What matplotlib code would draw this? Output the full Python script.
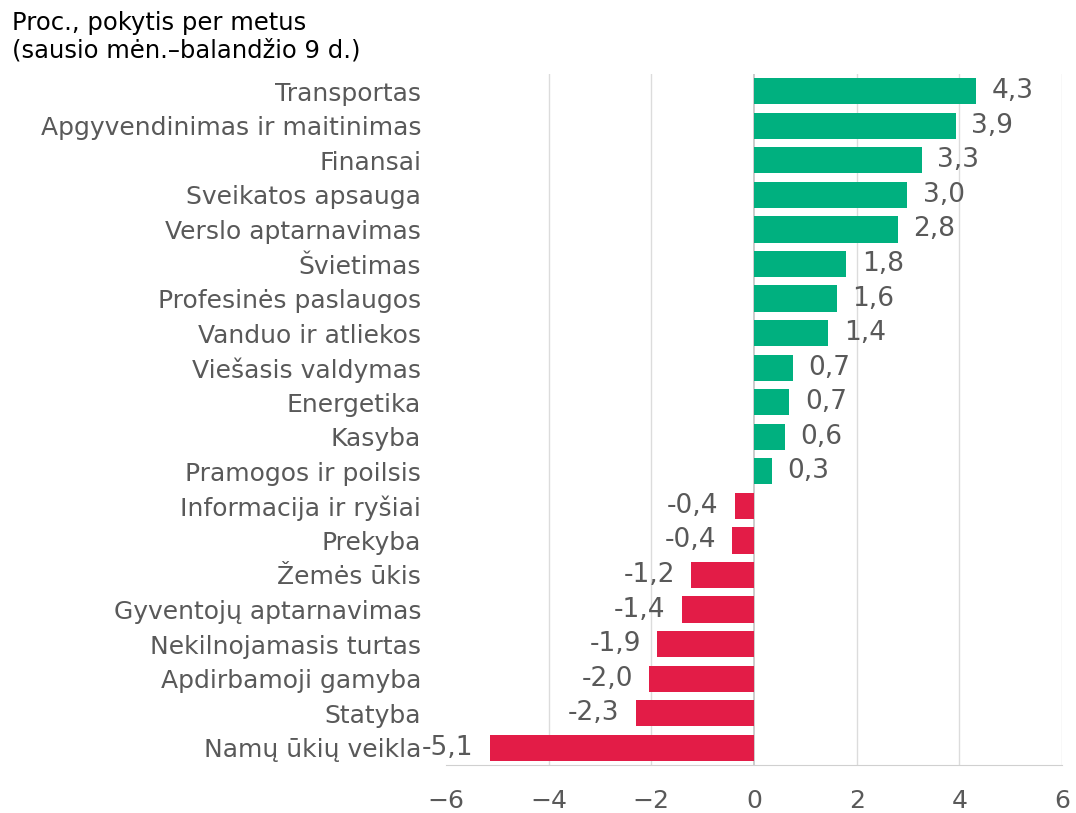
import numpy as np
import matplotlib.pyplot as plt

categories = ["Transportas", "Apgyvendinimas ir maitinimas", "Finansai", "Sveikatos apsauga",
              "Verslo aptarnavimas", "Švietimas", "Profesinės paslaugos", "Vanduo ir atliekos",
              "Viešasis valdymas", "Energetika", "Kasyba", "Pramogos ir poilsis",
              "Informacija ir ryšiai", "Prekyba", "Žemės ūkis", "Gyventojų aptarnavimas",
              "Nekilnojamasis turtas", "Apdirbamoji gamyba", "Statyba", "Namų ūkių veikla"]
values = [4.3, 3.9, 3.3, 3.0, 2.8, 1.8, 1.6, 1.4, 0.7, 0.7, 0.6, 0.3,
          -0.4, -0.4, -1.2, -1.4, -1.9, -2.0, -2.3, -5.1]
# exact bar lengths differ slightly from rounded labels
lengths = [4.33, 3.93, 3.27, 2.99, 2.80, 1.80, 1.61, 1.45, 0.75, 0.69, 0.60, 0.35,
           -0.37, -0.42, -1.22, -1.40, -1.88, -2.04, -2.30, -5.14]
xticks = [-6, -4, -2, 0, 2, 4, 6]

green = "#00b07f"
red = "#e31c47"
grey = "#595959"

fig = plt.figure(figsize=(10.76, 8.13), dpi=100)
ax = fig.add_axes([0.4145, 0.059, 0.5725, 0.85])

y = np.arange(len(categories))
colors = [green if v >= 0 else red for v in values]
ax.barh(y, lengths, height=0.76, color=colors, zorder=3)

for yi, v, L in zip(y, values, lengths):
    txt = f"{v:.1f}".replace(".", ",")
    if v >= 0:
        ax.text(L + 0.3, yi, txt, va="center", ha="left", fontsize=19, color=grey)
    else:
        ax.text(L - 0.32, yi, txt, va="center", ha="right", fontsize=19, color=grey)

ax.set_ylim(len(categories) - 0.5, -0.5)
ax.set_xlim(-6, 6)
ax.set_yticks(y)
ax.set_yticklabels(categories, fontsize=18, color=grey)
ax.set_xticks(xticks)
ax.set_xticklabels([str(t).replace("-", "\u2212") for t in xticks], fontsize=18, color=grey)
ax.tick_params(axis="both", length=0)
ax.tick_params(axis="y", pad=18)
ax.tick_params(axis="x", pad=17)

for t in xticks:
    if t == 0:
        ax.axvline(0, color="#c8c8c8", lw=1.3, zorder=2)
    elif t != -6:
        ax.axvline(t, color="#dcdcdc", lw=1.0, zorder=1)

for s in ["top", "right", "left"]:
    ax.spines[s].set_visible(False)
ax.spines["bottom"].set_color("#d0d0d0")

fig.text(0.011, 0.987, "Proc., pokytis per metus\n(sausio mėn.–balandžio 9 d.)",
         ha="left", va="top", fontsize=17.5, color="black", linespacing=1.2)

fig.savefig("out.png", dpi=100)
